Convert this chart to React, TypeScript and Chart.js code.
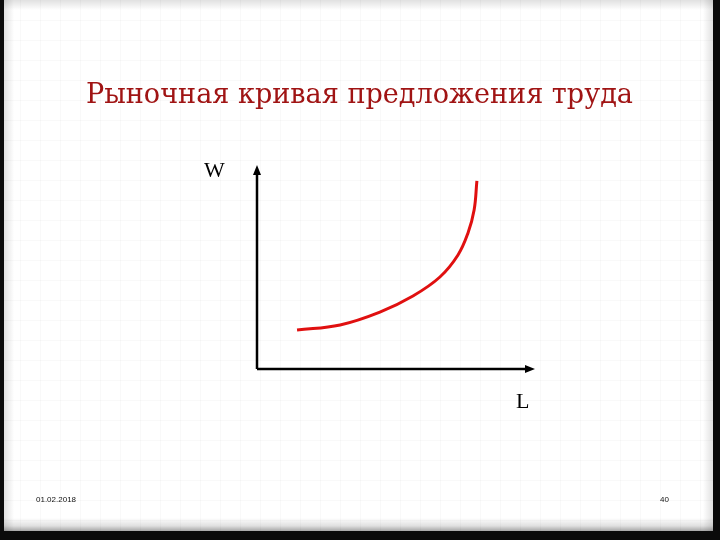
import React, { useEffect, useRef } from "react";
import { Chart, registerables } from "chart.js";

Chart.register(...registerables);

const titleText = "Рыночная кривая предложения труда";
const yAxisLabel = "W";
const xAxisLabel = "L";
const footerDate = "01.02.2018";
const footerPage = "40";

// labour supply curve (L, W) in 0..100 units
const supplyL = [14.4, 29.9, 44.2, 56.1, 65.8, 72.3, 75.9, 78.1, 79.1];
const supplyW = [19.1, 21.6, 27.9, 35.8, 45.1, 55.9, 66.7, 77.9, 92.2];

const slidePlugin = {
  id: "slideDecor",
  beforeDraw(chart: any) {
    const { ctx, width, height } = chart;
    ctx.save();
    ctx.fillStyle = "#ffffff";
    ctx.fillRect(0, 0, width, height);
    // faint grid
    ctx.strokeStyle = "rgba(0,0,0,0.025)";
    ctx.lineWidth = 1;
    for (let x = 20; x < width; x += 20) {
      ctx.beginPath();
      ctx.moveTo(x + 0.5, 0);
      ctx.lineTo(x + 0.5, height);
      ctx.stroke();
    }
    for (let y = 20; y < height; y += 20) {
      ctx.beginPath();
      ctx.moveTo(0, y + 0.5);
      ctx.lineTo(width, y + 0.5);
      ctx.stroke();
    }
    // top gradient
    let g = ctx.createLinearGradient(0, 0, 0, 10);
    g.addColorStop(0, "rgba(0,0,0,0.12)");
    g.addColorStop(1, "rgba(0,0,0,0)");
    ctx.fillStyle = g;
    ctx.fillRect(0, 0, width, 10);
    // bottom shadow band
    g = ctx.createLinearGradient(0, 518, 0, 531);
    g.addColorStop(0, "rgba(0,0,0,0)");
    g.addColorStop(0.6, "rgba(0,0,0,0.12)");
    g.addColorStop(1, "rgba(0,0,0,0.35)");
    ctx.fillStyle = g;
    ctx.fillRect(0, 518, width, 13);
    // left inner shade
    g = ctx.createLinearGradient(4, 0, 14, 0);
    g.addColorStop(0, "rgba(0,0,0,0.12)");
    g.addColorStop(1, "rgba(0,0,0,0)");
    ctx.fillStyle = g;
    ctx.fillRect(4, 0, 10, height);
    // right inner shade
    g = ctx.createLinearGradient(713, 0, 703, 0);
    g.addColorStop(0, "rgba(0,0,0,0.12)");
    g.addColorStop(1, "rgba(0,0,0,0)");
    ctx.fillStyle = g;
    ctx.fillRect(703, 0, 10, height);
    // black frame
    ctx.fillStyle = "#0a0a0a";
    ctx.fillRect(0, 0, 4, height);
    ctx.fillRect(713, 0, 7, height);
    ctx.fillRect(0, 531, width, 9);

    // title
    ctx.fillStyle = "#a01414";
    ctx.textBaseline = "alphabetic";
    ctx.textAlign = "left";
    let size = 28;
    ctx.font = `${size}px "DejaVu Serif"`;
    const w = ctx.measureText(titleText).width;
    size = size * (547 / w);
    ctx.font = `${size.toFixed(2)}px "DejaVu Serif"`;
    ctx.fillText(titleText, 86, 103);

    // footer
    ctx.fillStyle = "#111111";
    ctx.font = '8px "Liberation Sans"';
    ctx.fillText(footerDate, 36, 502);
    ctx.fillText(footerPage, 660, 502);
    ctx.restore();
  },
  afterDatasetsDraw(chart: any) {
    const { ctx, chartArea } = chart;
    const { left, right, top, bottom } = chartArea;
    ctx.save();
    ctx.strokeStyle = "#000000";
    ctx.fillStyle = "#000000";
    ctx.lineWidth = 2.5;
    ctx.beginPath();
    ctx.moveTo(left, bottom);
    ctx.lineTo(left, top + 6);
    ctx.moveTo(left, bottom);
    ctx.lineTo(right - 6, bottom);
    ctx.stroke();
    // arrowheads
    ctx.beginPath();
    ctx.moveTo(left, top);
    ctx.lineTo(left - 4, top + 10);
    ctx.lineTo(left + 4, top + 10);
    ctx.closePath();
    ctx.fill();
    ctx.beginPath();
    ctx.moveTo(right, bottom);
    ctx.lineTo(right - 10, bottom - 4);
    ctx.lineTo(right - 10, bottom + 4);
    ctx.closePath();
    ctx.fill();
    // axis letters
    ctx.font = '22px "Liberation Serif"';
    ctx.textBaseline = "alphabetic";
    ctx.textAlign = "left";
    ctx.fillText(yAxisLabel, 204, 177);
    ctx.fillText(xAxisLabel, 516, 408);
    ctx.restore();
  },
};

export default function App() {
  const ref = useRef<HTMLCanvasElement | null>(null);
  useEffect(() => {
    document.body.style.margin = "0";
    const canvas = ref.current;
    if (!canvas) return;
    const data = supplyL.map((x, i) => ({ x, y: supplyW[i] }));
    const chart = new Chart(canvas, {
      type: "scatter",
      data: {
        datasets: [
          {
            data,
            showLine: true,
            borderColor: "#e01010",
            borderWidth: 3,
            pointRadius: 0,
            tension: 0.4,
            fill: false,
          },
        ],
      },
      options: {
        animation: false,
        responsive: false,
        maintainAspectRatio: false,
        devicePixelRatio: 1,
        layout: { padding: { left: 257, right: 185, top: 165, bottom: 171 } },
        plugins: { legend: { display: false }, tooltip: { enabled: false } },
        scales: {
          x: { type: "linear", min: 0, max: 100, display: false },
          y: { type: "linear", min: 0, max: 100, display: false },
        },
      },
      plugins: [slidePlugin],
    });
    return () => chart.destroy();
  }, []);
  return (
    <div style={{ position: "fixed", left: 0, top: 0, width: 720, height: 540 }}>
      <canvas ref={ref} width={720} height={540} style={{ display: "block", width: 720, height: 540 }} />
    </div>
  );
}
